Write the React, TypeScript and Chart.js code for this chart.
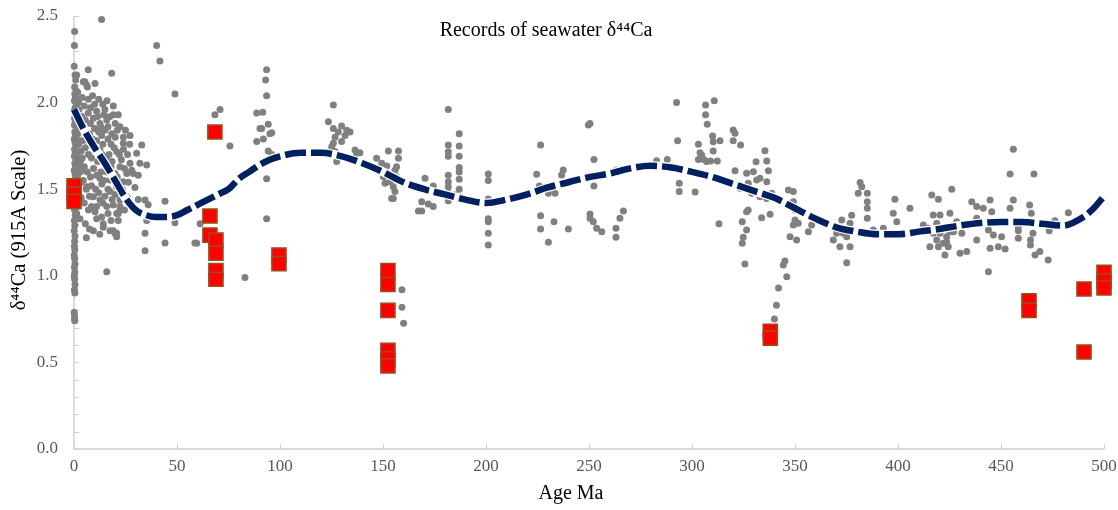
import React, { useEffect, useRef } from 'react';
import { Chart, registerables } from 'chart.js';

Chart.register(...registerables);

const chartTitle = 'Records of seawater δ⁴⁴Ca';
const xAxisTitle = 'Age Ma';
const yAxisTitle = 'δ⁴⁴Ca (915A Scale)';

const xMin = 0;
const xMax = 500;
const xStep = 50;
const yMin = 0;
const yMax = 2.5;
const yMinorStep = 0.1;
const yMajorStep = 0.5;

// Smoothed seawater δ44Ca curve [age Ma, δ44Ca]
const curveAge = [0, 5, 10, 15, 20, 25, 30, 35, 40, 45, 50, 55, 60, 65, 70, 75, 80, 85, 90, 95, 100, 110, 120, 130, 140, 150, 160, 170, 180, 190, 200, 210, 220, 230, 240, 250, 260, 270, 280, 290, 300, 310, 320, 330, 340, 350, 360, 370, 380, 390, 400, 410, 420, 430, 440, 450, 460, 470, 480, 490, 495, 500];
const curveD44 = [1.96, 1.84, 1.74, 1.65, 1.55, 1.45, 1.38, 1.35, 1.34, 1.34, 1.35, 1.38, 1.41, 1.44, 1.47, 1.5, 1.56, 1.6, 1.64, 1.67, 1.69, 1.71, 1.71, 1.69, 1.65, 1.6, 1.54, 1.5, 1.47, 1.44, 1.42, 1.44, 1.47, 1.51, 1.54, 1.57, 1.59, 1.62, 1.635, 1.625, 1.6, 1.57, 1.53, 1.49, 1.45, 1.39, 1.33, 1.28, 1.255, 1.24, 1.24, 1.255, 1.27, 1.29, 1.305, 1.31, 1.31, 1.3, 1.29, 1.34, 1.39, 1.46];

// Red square records [age Ma, δ44Ca]
const redRecords: [number, number][] = [
  [0, 1.52], [0, 1.47], [0, 1.43], [68.4, 1.83], [66, 1.345], [66, 1.235], [68.9, 1.207], [68.9, 1.13],
  [68.9, 1.03], [68.9, 0.98], [99.5, 1.12], [99.5, 1.07], [152.4, 1.03], [152.4, 0.95], [152.4, 0.8],
  [152.4, 0.57], [152.4, 0.52], [152.4, 0.48], [338, 0.68], [338, 0.64], [463.6, 0.855], [463.6, 0.8],
  [490.3, 0.924], [490.3, 0.56], [500, 1.02], [500, 0.97], [500, 0.93],
];

// Gray compiled records, Cenozoic [age Ma, δ44Ca]
const grayCenozoic: [number, number][] = [
  [0.3, 2.41], [0.2, 2.33], [0.1, 2.21], [0.5, 2.16], [0.8, 2.13], [0.3, 2.09], [1.0, 2.07], [0.4, 2.05], [0.7, 2.03], [0.2, 2.01],
  [1.2, 1.99], [0.5, 1.97], [0.1, 1.95], [0.9, 1.93], [0.3, 1.91], [0.6, 1.89], [0.2, 1.87], [1.1, 1.85], [0.4, 1.83], [0.7, 1.81],
  [0.1, 1.79], [0.5, 1.77], [0.9, 1.75], [0.3, 1.73], [0.6, 1.71], [0.2, 1.69], [1.0, 1.67], [0.4, 1.65], [0.7, 1.63], [0.1, 1.61],
  [0.5, 1.59], [0.8, 1.57], [0.3, 1.55], [0.6, 1.53], [0.2, 1.51], [0.9, 1.49], [0.4, 1.47], [0.7, 1.45], [0.1, 1.43], [0.5, 1.41],
  [0.3, 1.38], [0.6, 1.35], [0.2, 1.32], [0.4, 1.29], [0.1, 1.26], [0.5, 1.23], [0.3, 1.2], [0.2, 1.17], [0.4, 1.15], [0.1, 1.12],
  [0.3, 1.1], [0.5, 1.07], [0.2, 1.05], [0.4, 1.02], [0.1, 1.0], [0.3, 0.98], [0.5, 0.95], [0.2, 0.92], [0.4, 0.9], [0.1, 0.79],
  [0.3, 0.77], [0.2, 0.75], [0.4, 0.74],
  [1.8, 2.06], [2.2, 2.0], [1.6, 1.94], [2.5, 1.88], [1.9, 1.82], [2.3, 1.76], [1.5, 1.7], [2.7, 1.64], [1.8, 1.58], [2.1, 1.52],
  [2.6, 1.46], [1.7, 1.4], [2.4, 1.96], [2.9, 1.9], [3.2, 1.84], [2.8, 1.78], [3.5, 1.72], [3.1, 1.66], [2.9, 1.6], [3.4, 1.54],
  [1.4, 1.88], [1.3, 1.78], [1.2, 1.62], [1.4, 1.5], [1.3, 1.36], [1.2, 1.44],
  [4.5, 2.12], [5.3, 2.12], [6.5, 2.09], [6.9, 2.19], [6.2, 2.1], [1.3, 2.16], [10.2, 2.11], [18.3, 2.17], [13.4, 2.48],
  [11, 1.95], [15, 1.96], [19.1, 1.98], [21.5, 1.93], [19.1, 1.93], [15.9, 1.9], [12.6, 1.88], [9.4, 1.91], [6.9, 1.94],
  [22.3, 1.86], [27.2, 1.81], [32.9, 1.755], [23.9, 1.765], [18.3, 1.82], [13.4, 1.81], [20.7, 1.717], [15.9, 1.688], [12.6, 1.726],
  [9.4, 1.745], [6.2, 1.784], [30.4, 1.707], [35.3, 1.64], [32, 1.65], [28, 1.61], [25.6, 1.59], [22.3, 1.63], [19.9, 1.59],
  [17.5, 1.553], [23.9, 1.543], [20.7, 1.514], [17.5, 1.486], [25.6, 1.457], [22.3, 1.438], [19.1, 1.409], [15.9, 1.4], [12.6, 1.438],
  [9.4, 1.457], [6.2, 1.514], [4.5, 1.61], [12.6, 1.563], [29.6, 1.51], [31.2, 1.44], [29.6, 1.39], [27.2, 1.65], [28.8, 1.59],
  [31.2, 1.58], [26.4, 1.54], [22.3, 1.4], [20.7, 1.36], [21.5, 1.32], [19.1, 1.26], [20.7, 1.245], [11, 1.4], [11, 1.33],
  [14.2, 1.28], [17.5, 1.26], [9.4, 1.26], [2.9, 1.33], [10.2, 1.37], [13.4, 1.34], [14.2, 1.3], [19.9, 1.245], [20.7, 1.226],
  [21.5, 1.36], [22.3, 1.38], [36, 1.41], [44.2, 1.43], [35.3, 1.32], [49, 1.307], [34.5, 1.245], [44.2, 1.19], [34.5, 1.145],
  [58.7, 1.19], [61.2, 1.3], [15.9, 1.024], [83, 0.99], [34.5, 1.438], [59.6, 1.188], [40.1, 2.33], [41.7, 2.24], [49, 2.05],
  [68.4, 1.93], [70.9, 1.96], [75.7, 1.75],
  [4, 2.03], [5, 1.98], [7, 2.02], [8, 1.97], [9, 2.04], [10, 1.99], [12, 2.02], [14, 1.99], [16, 2.01], [3.8, 1.92], [5.5, 1.9],
  [8, 1.88], [10, 1.85], [11.5, 1.92], [13, 1.86], [14.5, 1.93], [16.5, 1.86], [17.5, 1.92], [20, 1.88], [3.6, 1.86], [5, 1.83],
  [7.5, 1.82], [9, 1.79], [11, 1.78], [12, 1.83], [14, 1.76], [15, 1.84], [16.5, 1.79], [18, 1.76], [20, 1.8], [21, 1.84], [24, 1.8],
  [25, 1.84], [4, 1.78], [5.5, 1.74], [7, 1.7], [8.5, 1.68], [10.5, 1.72], [11.5, 1.66], [13.5, 1.7], [15, 1.65], [17, 1.7],
  [18.5, 1.66], [19.5, 1.74], [22, 1.7], [24, 1.73], [26, 1.7], [27, 1.76], [4, 1.68], [5, 1.63], [6.5, 1.6], [8, 1.57], [9.5, 1.62],
  [11, 1.58], [13, 1.6], [14.5, 1.55], [16, 1.6], [18, 1.63], [21, 1.57], [23, 1.67], [24.5, 1.62], [4.5, 1.55], [6, 1.5], [7.5, 1.46],
  [8.5, 1.52], [10.5, 1.5], [12, 1.48], [13.5, 1.53], [15, 1.46], [16.5, 1.5], [18.5, 1.44], [20, 1.47], [3.5, 1.45], [5, 1.42],
  [7, 1.38], [8.5, 1.4], [14, 1.42], [16.5, 1.36], [18, 1.32], [5.5, 1.3], [7.5, 1.27], [6, 1.22], [12.5, 1.24], [23.5, 1.5],
  [24.5, 1.38], [26, 1.45],
];

// Gray compiled records, Mesozoic [age Ma, δ44Ca]
const grayMesozoic: [number, number][] = [
  [88.7, 1.94], [91.6, 1.944], [94.3, 1.875], [91.1, 1.85], [95.1, 1.82], [96, 1.826], [91.9, 1.79], [88.7, 1.775], [94.3, 1.72],
  [96, 1.7], [93.5, 1.56], [93.5, 1.33], [93.5, 2.04], [90.3, 1.85], [93.5, 2.19], [93, 2.13],
  [125.9, 1.986], [123.5, 1.89], [125.9, 1.85], [128.3, 1.83], [129.9, 1.865], [132.4, 1.84], [134, 1.83], [131.6, 1.81], [126.7, 1.8],
  [125.9, 1.765], [129.9, 1.775], [125.1, 1.745], [126.7, 1.717], [127.5, 1.66], [136.4, 1.726], [137.2, 1.707], [138.8, 1.71],
  [152.6, 1.72], [157.5, 1.72], [157.5, 1.678], [156.6, 1.63], [155.8, 1.61], [146.9, 1.678], [149.4, 1.65], [151.8, 1.634],
  [150.2, 1.572], [151, 1.534], [153.4, 1.543], [155, 1.514], [155.8, 1.486], [155, 1.447], [154.2, 1.447], [156.6, 1.572], [157.5, 1.553],
  [170.4, 1.563], [174.4, 1.518], [168.8, 1.428], [167.2, 1.374], [168.8, 1.374], [172, 1.414], [174.4, 1.4],
  [181.7, 1.96], [181.7, 1.755], [181.7, 1.716], [181.7, 1.69], [181.7, 1.58], [181.7, 1.543], [181.7, 1.514], [181.7, 1.476], [181.7, 1.434],
  [187, 1.82], [187, 1.75], [187, 1.69], [187, 1.626], [187, 1.6], [187, 1.557], [187, 1.5], [185, 1.467], [187.4, 1.457],
  [201.1, 1.588], [201.1, 1.55], [201.1, 1.443], [201.1, 1.33], [201.1, 1.312], [201.1, 1.245], [201.1, 1.178],
  [159.2, 0.92], [159.2, 0.818], [160, 0.726],
  [226.5, 1.755], [224.6, 1.586], [225.9, 1.518], [230.3, 1.476], [233.5, 1.476], [236.7, 1.582], [237.5, 1.611], [226.5, 1.347],
  [226.5, 1.27], [233, 1.312], [230.3, 1.193], [240, 1.27],
  [250.5, 1.88], [249.7, 1.87], [252.4, 1.672], [252.4, 1.518], [250.5, 1.357], [252.1, 1.312], [253.7, 1.274], [256.2, 1.255], [250.5, 1.332],
];

// Gray compiled records, Paleozoic [age Ma, δ44Ca]
const grayPaleozoic: [number, number][] = [
  [263.4, 1.611], [263.1, 1.274], [263.1, 1.222], [265, 1.332], [266.7, 1.374], [282.8, 1.664], [288, 1.672], [292.5, 2.0], [293, 1.78],
  [293.8, 1.534], [293.8, 1.486], [301.5, 1.484], [306.6, 1.986], [310.8, 2.01], [306.6, 1.93], [307.4, 1.875], [303.1, 1.76],
  [303.9, 1.71], [303.1, 1.672], [305.8, 1.672], [307.1, 1.66], [309, 1.663], [310.3, 1.72], [310.3, 1.774], [310, 1.807], [313.6, 1.78],
  [312.3, 1.663], [304.7, 1.697], [313.1, 1.3], [320, 1.842], [320.9, 1.823], [320, 1.78], [323.6, 1.755], [320.9, 1.607], [326.5, 1.592],
  [329.8, 1.601], [331.1, 1.659], [335.4, 1.722], [336.3, 1.663], [337.1, 1.607], [333, 1.563], [336.3, 1.543], [331.4, 1.553],
  [327.3, 1.534], [323.3, 1.505], [329, 1.476], [333, 1.457], [336.3, 1.447], [338.7, 1.476], [327.3, 1.38], [326.5, 1.37],
  [333.8, 1.335], [337.9, 1.355], [324.4, 1.312], [326.5, 1.264], [324.9, 1.222], [324.4, 1.188], [325.7, 1.068], [345.1, 1.085],
  [344.3, 1.062], [346, 0.995], [346.8, 1.495], [349.2, 1.486], [349.2, 1.428], [350, 1.38], [350, 1.322], [349.2, 1.293], [347.6, 1.226],
  [350.8, 1.207], [351.6, 1.303], [356.5, 1.255], [358.1, 1.293], [342, 0.93], [341, 0.83], [340, 0.75],
  [372.7, 1.322], [377.5, 1.35], [376.7, 1.303], [370.2, 1.245], [373.4, 1.245], [375.1, 1.226], [368.6, 1.207], [371.8, 1.168],
  [376.7, 1.168], [375.1, 1.076], [381.6, 1.538], [382.4, 1.514], [380.7, 1.476], [385.1, 1.476], [385.1, 1.428], [385.1, 1.39],
  [385.1, 1.332], [388, 1.264], [392.9, 1.274], [398.5, 1.442], [397.7, 1.361], [399.4, 1.312], [405.8, 1.39],
  [416.4, 1.467], [419.6, 1.442], [426.1, 1.5], [412.3, 1.293], [417.1, 1.351], [420.4, 1.351], [425.2, 1.361], [428.5, 1.312],
  [414.7, 1.274], [417.1, 1.245], [420.4, 1.245], [423.6, 1.226], [426.9, 1.255], [431, 1.245], [415.5, 1.168], [419.6, 1.168],
  [422, 1.188], [422.8, 1.12], [424.4, 1.168], [430.1, 1.13], [433.4, 1.14], [418.8, 1.207], [423.6, 1.197], [425.2, 1.255], [418.8, 1.303],
  [435.8, 1.428], [438.2, 1.4], [441.4, 1.39], [444.7, 1.438], [445.5, 1.37], [438.2, 1.332], [443.9, 1.264], [446.3, 1.235],
  [450.3, 1.226], [438.2, 1.207], [444.7, 1.159], [448.7, 1.168], [452, 1.155], [443.9, 1.024], [456, 1.73], [454.4, 1.588], [466, 1.588],
  [456, 1.438], [454.4, 1.39], [458.4, 1.283], [458.4, 1.26], [458.4, 1.217], [463.9, 1.409], [464.7, 1.361], [465.5, 1.245],
  [464.3, 1.207], [464.3, 1.178], [466.5, 1.12], [468.9, 1.14], [472.9, 1.091], [473.4, 1.26], [476.2, 1.318], [482.7, 1.364],
];

const SERIF = "'Liberation Serif', 'Times New Roman', 'DejaVu Serif', serif";
const AXIS_COLOR = '#D0D0D0';
const TICK_TEXT = '#595959';

const toXY = (pairs: [number, number][]) => pairs.map(([x, y]) => ({ x, y }));

const excelAxesPlugin = {
  id: 'excelAxes',
  beforeDatasetsDraw(chart: any) {
    const { ctx, chartArea, scales } = chart;
    const xs = scales.x;
    const ys = scales.y;
    ctx.save();
    ctx.strokeStyle = AXIS_COLOR;
    ctx.lineWidth = 1.5;
    ctx.beginPath();
    ctx.moveTo(chartArea.left, chartArea.top);
    ctx.lineTo(chartArea.left, chartArea.bottom);
    ctx.lineTo(chartArea.right, chartArea.bottom);
    ctx.stroke();
    ctx.lineWidth = 1;
    ctx.beginPath();
    for (const t of xs.ticks) {
      const px = Math.round(xs.getPixelForValue(t.value)) + 0.5;
      ctx.moveTo(px, chartArea.bottom);
      ctx.lineTo(px, chartArea.bottom - 5);
    }
    for (const t of ys.ticks) {
      const py = Math.round(ys.getPixelForValue(t.value)) + 0.5;
      ctx.moveTo(chartArea.left, py);
      ctx.lineTo(chartArea.left + 5, py);
    }
    ctx.stroke();
    ctx.restore();
  },
  afterDraw(chart: any) {
    const { ctx } = chart;
    ctx.save();
    ctx.fillStyle = '#000000';
    ctx.textAlign = 'center';
    ctx.textBaseline = 'middle';
    ctx.font = `20px ${SERIF}`;
    ctx.fillText(chartTitle, 546, 31);
    ctx.font = `20px ${SERIF}`;
    ctx.fillText(xAxisTitle, 571, 494);
    ctx.translate(20, 230);
    ctx.rotate(-Math.PI / 2);
    ctx.font = `20.5px ${SERIF}`;
    ctx.fillText(yAxisTitle, 0, 0);
    ctx.restore();
  },
};

export default function App() {
  const canvasRef = useRef<HTMLCanvasElement | null>(null);

  useEffect(() => {
    if (!canvasRef.current) return;
    const curve = curveAge.map((x, i) => ({ x, y: curveD44[i] }));
    const chart = new Chart(canvasRef.current, {
      type: 'scatter',
      data: {
        datasets: [
          {
            label: 'Trend',
            data: curve,
            showLine: true,
            borderColor: '#002060',
            borderWidth: 6.5,
            borderDash: [21, 5],
            borderCapStyle: 'butt',
            pointRadius: 0,
            cubicInterpolationMode: 'monotone',
            clip: false,
            order: 0,
          } as any,
          {
            label: 'Trend halo',
            data: curve,
            showLine: true,
            borderColor: '#FFFFFF',
            borderWidth: 9,
            pointRadius: 0,
            cubicInterpolationMode: 'monotone',
            clip: false,
            order: 1,
          } as any,
          {
            label: 'Records',
            data: toXY(redRecords),
            pointStyle: 'rect',
            pointRadius: 10,
            backgroundColor: '#FF0000',
            borderColor: '#9C4D1C',
            borderWidth: 1.5,
            clip: false,
            order: 2,
          } as any,
          {
            label: 'Compilation',
            data: [...toXY(grayCenozoic), ...toXY(grayMesozoic), ...toXY(grayPaleozoic)],
            pointStyle: 'circle',
            pointRadius: 3.5,
            backgroundColor: '#808080',
            borderWidth: 0,
            clip: false,
            order: 3,
          } as any,
        ],
      },
      options: {
        animation: false,
        responsive: false,
        devicePixelRatio: 1,
        layout: { padding: { top: 16, right: 14, left: 0, bottom: 0 } },
        plugins: {
          legend: { display: false },
          tooltip: { enabled: false },
          title: { display: false },
        },
        scales: {
          x: {
            type: 'linear',
            min: xMin,
            max: xMax,
            grid: { display: false, drawTicks: false, tickLength: 0 },
            border: { display: false },
            ticks: {
              stepSize: xStep,
              color: TICK_TEXT,
              padding: 7,
              font: { family: SERIF, size: 17 },
              maxRotation: 0,
            },
            afterFit: (scale: any) => {
              scale.height = 61;
              scale.paddingLeft = 0;
              scale.paddingRight = 0;
            },
          },
          y: {
            type: 'linear',
            min: yMin,
            max: yMax,
            grid: { display: false, drawTicks: false, tickLength: 0 },
            border: { display: false },
            ticks: {
              stepSize: yMinorStep,
              autoSkip: false,
              color: TICK_TEXT,
              padding: 16,
              font: { family: SERIF, size: 17 },
              callback: (v: any) => {
                const n = Number(v);
                const k = n / yMajorStep;
                return Math.abs(k - Math.round(k)) < 1e-6 ? n.toFixed(1) : '';
              },
            },
            afterFit: (scale: any) => {
              scale.width = 74;
              scale.paddingTop = 0;
              scale.paddingBottom = 0;
            },
          },
        },
      },
      plugins: [excelAxesPlugin],
    });
    return () => chart.destroy();
  }, []);

  return (
    <div style={{ position: 'absolute', left: 0, top: 0, width: 1118, height: 510, background: '#fff' }}>
      <canvas ref={canvasRef} width={1118} height={510} />
    </div>
  );
}
